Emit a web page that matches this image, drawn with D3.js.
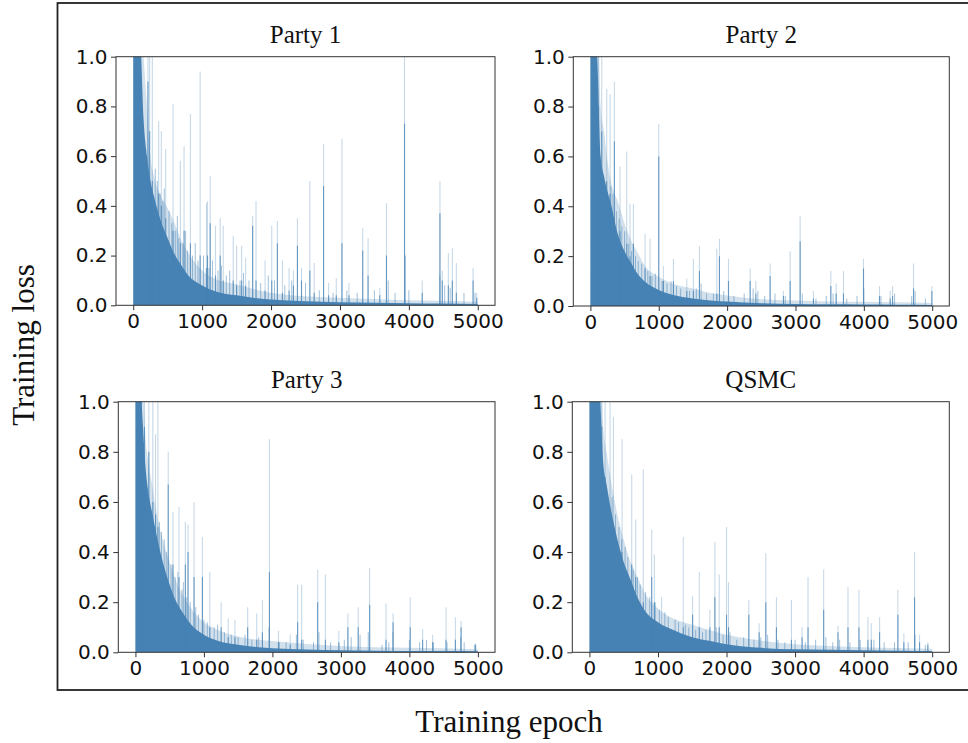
<!DOCTYPE html>
<html><head><meta charset="utf-8">
<script src="https://cdn.jsdelivr.net/npm/d3@7"></script>
<style>
html,body{margin:0;padding:0;background:#fff;}
svg{display:block;}
</style></head>
<body>
<svg id="chart" width="968" height="743"></svg>
<script>
// ---------------- data ----------------
const titles = ["Party 1", "Party 2", "Party 3", "QSMC"];
const xTicks = [0, 1000, 2000, 3000, 4000, 5000];
const yTicks = [0.0, 0.2, 0.4, 0.6, 0.8, 1.0];
const epochGrid = [0, 50, 100, 150, 200, 250, 300, 400, 500, 600, 700, 800, 1000, 1200, 1500, 1800, 2000, 2500, 3000, 3500, 4000, 4500, 5000];

// dense (solid) loss level and light upper band, at epochGrid
const p1Dense = [1.2, 1.2, 1.1, 0.75, 0.6, 0.5, 0.44, 0.34, 0.27, 0.205, 0.16, 0.12, 0.08, 0.056, 0.04, 0.028, 0.023, 0.016, 0.012, 0.01, 0.008, 0.007, 0.005];
const p1Haze  = [1.2, 1.2, 1.2, 1.0, 0.8, 0.6, 0.52, 0.44, 0.39, 0.33, 0.26, 0.21, 0.14, 0.105, 0.085, 0.062, 0.05, 0.036, 0.03, 0.025, 0.02, 0.018, 0.014];
const p2Dense = [1.2, 1.2, 1.0, 0.6, 0.52, 0.46, 0.41, 0.29, 0.22, 0.17, 0.125, 0.097, 0.064, 0.045, 0.03, 0.021, 0.018, 0.011, 0.008, 0.007, 0.006, 0.005, 0.004];
const p2Haze  = [1.2, 1.2, 1.2, 0.8, 0.7, 0.58, 0.5, 0.42, 0.33, 0.26, 0.21, 0.16, 0.117, 0.09, 0.07, 0.05, 0.042, 0.027, 0.022, 0.018, 0.017, 0.015, 0.012];
const p3Dense = [1.2, 1.2, 0.95, 0.73, 0.62, 0.55, 0.48, 0.36, 0.27, 0.2, 0.155, 0.115, 0.07, 0.046, 0.03, 0.02, 0.016, 0.011, 0.008, 0.006, 0.005, 0.005, 0.004];
const p3Haze  = [1.2, 1.2, 1.1, 0.85, 0.74, 0.66, 0.57, 0.45, 0.36, 0.28, 0.225, 0.18, 0.12, 0.09, 0.063, 0.05, 0.045, 0.033, 0.025, 0.02, 0.018, 0.016, 0.012];
const p4Dense = [1.2, 1.2, 1.2, 1.05, 0.76, 0.67, 0.59, 0.46, 0.36, 0.29, 0.22, 0.17, 0.12, 0.092, 0.06, 0.043, 0.032, 0.018, 0.012, 0.01, 0.008, 0.006, 0.005];
const p4Haze  = [1.2, 1.2, 1.2, 1.2, 0.9, 0.8, 0.71, 0.56, 0.45, 0.36, 0.3, 0.24, 0.175, 0.138, 0.11, 0.085, 0.07, 0.047, 0.032, 0.025, 0.02, 0.017, 0.014];

// tall spikes: [epoch, peak loss, darker core height]
const p1Spikes = [[214,1.2,0.9],[238,1.2,0.7],[277,1.2,0.5],[369,0.74,0.45],[408,0.70,0.4],[471,0.63,0.35],[578,0.81,0.3],[684,0.58,0.25],[738,0.64,0.3],[830,0.77,0.25],[971,0.94,0.2],[1063,0.41,0.15],[1078,0.42,0.2],[1117,0.52,0.33],[1194,0.32,0.12],[1262,0.35,0.2],[1306,0.32,0.1],[1451,0.28,0.1],[1500,0.24,0.08],[1573,0.24,0.1],[1631,0.19,0.08],[1733,0.36,0.32],[1782,0.42,0.1],[1913,0.18,0.06],[2010,0.32,0.1],[2092,0.34,0.25],[2165,0.18,0.05],[2262,0.15,0.06],[2325,0.14,0.08],[2383,0.35,0.24],[2442,0.15,0.1],[2563,0.50,0.14],[2626,0.17,0.05],[2762,0.65,0.48],[2835,0.09,0.04],[2947,0.11,0.04],[3029,0.67,0.25],[3131,0.09,0.04],[3330,0.31,0.22],[3408,0.27,0.12],[3578,0.07,0.04],[3675,0.41,0.2],[3937,1.0,0.73],[4194,0.10,0.05],[4451,0.50,0.37],[4485,0.14,0.1],[4573,0.21,0.08],[4631,0.23,0.1],[4689,0.17,0.05],[4932,0.15,0.1],[4985,0.05,0.03]];
const p2Spikes = [[83,1.2,1.0],[120,1.2,0.8],[166,1.2,0.7],[239,0.87,0.5],[288,0.85,0.45],[351,0.90,0.66],[434,0.56,0.3],[532,0.62,0.25],[580,0.41,0.2],[629,0.41,0.25],[800,0.29,0.15],[873,0.27,0.12],[1000,0.73,0.6],[1068,0.16,0.1],[1215,0.19,0.1],[1410,0.11,0.06],[1507,0.19,0.06],[1595,0.24,0.14],[1849,0.23,0.05],[1888,0.27,0.2],[2020,0.19,0.1],[2337,0.15,0.1],[2420,0.10,0.05],[2629,0.17,0.12],[2824,0.06,0.04],[2922,0.22,0.1],[3068,0.36,0.26],[3263,0.06,0.03],[3517,0.14,0.08],[3595,0.09,0.05],[3702,0.14,0.05],[3995,0.19,0.15],[4229,0.08,0.04],[4385,0.06,0.03],[4420,0.08,0.04],[4727,0.17,0.07],[4995,0.08,0.06]];
const p3Spikes = [[83,1.2,1.0],[132,1.2,0.9],[196,1.2,0.8],[254,1.2,0.6],[328,1.2,0.5],[294,0.87,0.55],[479,0.80,0.67],[548,0.56,0.35],[636,0.58,0.3],[729,0.52,0.35],[768,0.51,0.4],[856,0.60,0.3],[978,0.46,0.3],[1086,0.32,0.1],[1252,0.20,0.1],[1355,0.135,0.06],[1453,0.13,0.06],[1639,0.18,0.1],[1771,0.155,0.05],[1854,0.21,0.08],[1957,0.85,0.32],[2089,0.086,0.04],[2260,0.072,0.03],[2368,0.27,0.12],[2427,0.27,0.05],[2661,0.33,0.2],[2774,0.31,0.05],[2970,0.086,0.04],[3102,0.155,0.1],[3253,0.18,0.1],[3420,0.335,0.19],[3659,0.195,0.05],[3762,0.155,0.12],[4012,0.22,0.1],[4193,0.093,0.05],[4340,0.07,0.04],[4535,0.18,0.05],[4672,0.14,0.05],[4755,0.126,0.1],[4966,0.036,0.03]];
const p4Spikes = [[131,1.2,1.0],[180,1.2,0.9],[228,1.2,0.7],[301,1.0,0.5],[350,0.94,0.5],[476,0.85,0.4],[617,0.71,0.35],[675,0.53,0.3],[786,0.73,0.2],[908,0.49,0.3],[947,0.39,0.2],[1053,0.22,0.1],[1369,0.46,0.1],[1505,0.225,0.15],[1602,0.32,0.1],[1757,0.17,0.1],[1830,0.44,0.22],[1893,0.31,0.1],[2000,0.50,0.15],[2029,0.28,0.1],[2325,0.21,0.15],[2476,0.116,0.08],[2573,0.395,0.2],[2728,0.22,0.1],[2947,0.21,0.05],[3102,0.10,0.06],[3189,0.30,0.1],[3417,0.33,0.17],[3626,0.106,0.08],[3772,0.26,0.1],[3932,0.25,0.1],[4063,0.14,0.05],[4112,0.116,0.05],[4233,0.14,0.08],[4500,0.25,0.15],[4587,0.076,0.04],[4743,0.40,0.22],[4816,0.07,0.04],[4937,0.04,0.03]];

// small darker spikes along the dense band: [epoch, peak loss]
const p1Minor = [[320,0.55],[350,0.5],[390,0.45],[430,0.42],[450,0.47],[520,0.38],[560,0.33],[610,0.3],[640,0.36],[660,0.27],[720,0.25],[760,0.3],[790,0.22],[860,0.2],[900,0.25],[940,0.18],[1020,0.2],[1100,0.15],[1150,0.18],[1230,0.14],[1280,0.16],[1350,0.12],[1400,0.14],[1550,0.1],[1600,0.13],[1680,0.1],[1850,0.09],[1960,0.12],[2050,0.1],[2200,0.08],[2300,0.1],[2500,0.09],[2700,0.06],[2900,0.05],[3100,0.06],[3250,0.05],[3500,0.06],[3700,0.1],[3800,0.05],[3950,0.2],[4000,0.06],[4450,0.12],[4520,0.08],[4600,0.07],[4800,0.05],[4960,0.05]];
const p2Minor = [[300,0.48],[330,0.45],[380,0.38],[420,0.35],[460,0.32],[500,0.3],[560,0.25],[600,0.22],[660,0.2],[700,0.18],[750,0.17],[840,0.14],[900,0.12],[950,0.13],[1050,0.1],[1120,0.09],[1180,0.1],[1260,0.08],[1320,0.07],[1450,0.06],[1550,0.07],[1620,0.09],[1700,0.05],[1800,0.05],[1950,0.06],[2100,0.04],[2250,0.05],[2380,0.07],[2450,0.06],[2550,0.04],[2700,0.05],[2850,0.04],[3100,0.05],[3300,0.03],[3450,0.04],[3550,0.05],[3750,0.03],[3900,0.04],[4000,0.07],[4250,0.04],[4450,0.05],[4700,0.04],[4750,0.06],[4900,0.03]];
const p3Minor = [[350,0.52],[380,0.48],[420,0.45],[450,0.4],[520,0.35],[580,0.3],[620,0.32],[680,0.25],[700,0.28],[750,0.22],[800,0.2],[880,0.18],[920,0.15],[1000,0.13],[1050,0.12],[1150,0.1],[1200,0.11],[1300,0.08],[1400,0.07],[1500,0.06],[1600,0.07],[1700,0.05],[1800,0.06],[1950,0.1],[2100,0.04],[2200,0.04],[2350,0.07],[2450,0.05],[2600,0.04],[2680,0.08],[2850,0.04],[3050,0.05],[3150,0.06],[3280,0.07],[3400,0.08],[3600,0.03],[3700,0.04],[3760,0.08],[4000,0.05],[4150,0.04],[4250,0.05],[4350,0.04],[4550,0.04],[4750,0.06],[4800,0.04],[4950,0.03]];
const p4Minor = [[330,0.62],[380,0.55],[430,0.5],[470,0.45],[520,0.42],[560,0.38],[640,0.33],[700,0.3],[740,0.27],[820,0.24],[880,0.22],[960,0.2],[1020,0.17],[1100,0.16],[1150,0.14],[1250,0.13],[1300,0.12],[1400,0.11],[1450,0.1],[1550,0.09],[1650,0.08],[1700,0.09],[1850,0.1],[1950,0.07],[2050,0.08],[2150,0.05],[2250,0.06],[2400,0.05],[2500,0.06],[2600,0.07],[2750,0.05],[2850,0.04],[3000,0.05],[3150,0.04],[3300,0.05],[3450,0.06],[3550,0.04],[3650,0.05],[3800,0.04],[3950,0.05],[4150,0.05],[4300,0.04],[4450,0.04],[4650,0.04],[4750,0.07],[4900,0.03]];

// ---------------- drawing ----------------
const color = "#4682b4";
const svg = d3.select("#chart");

// outer frame
svg.append("rect").attr("x", 57.5).attr("y", 3).attr("width", 920).attr("height", 687)
  .attr("fill", "none").attr("stroke", "#222").attr("stroke-width", 1.8);

const layout = [
  {x: 116, y: 56.7, w: 379, h: 248.6},
  {x: 573.3, y: 56.7, w: 376, h: 249.3},
  {x: 118.3, y: 401.7, w: 376.7, h: 250.6},
  {x: 572.3, y: 401.7, w: 377, h: 250.6}
];
const dense = [p1Dense, p2Dense, p3Dense, p4Dense];
const haze = [p1Haze, p2Haze, p3Haze, p4Haze];
const spikes = [p1Spikes, p2Spikes, p3Spikes, p4Spikes];
const minor = [p1Minor, p2Minor, p3Minor, p4Minor];

layout.forEach((L, i) => {
  const g = svg.append("g").attr("transform", `translate(${L.x},${L.y})`);
  const x = d3.scaleLinear().domain([-250, 5250]).range([0, L.w]);
  const y = d3.scaleLinear().domain([0, 1]).range([L.h, 0]);

  const clipId = "clip" + i;
  g.append("clipPath").attr("id", clipId).append("rect")
    .attr("width", L.w).attr("height", L.h);
  const plot = g.append("g").attr("clip-path", `url(#${clipId})`);

  const hazeData = epochGrid.map((e, k) => ({e, v: haze[i][k]}));
  const denseData = epochGrid.map((e, k) => ({e, v: dense[i][k]}));
  const area = d3.area().x(d => x(d.e)).y0(y(0)).y1(d => y(d.v)).curve(d3.curveMonotoneX);

  plot.append("path").datum(hazeData).attr("d", area)
    .attr("fill", color).attr("fill-opacity", 0.24);

  // light spikes
  plot.selectAll("line.sp").data(spikes[i]).join("line").attr("class", "sp")
    .attr("x1", d => x(d[0])).attr("x2", d => x(d[0]))
    .attr("y1", y(0)).attr("y2", d => y(d[1]))
    .attr("stroke", color).attr("stroke-opacity", 0.3).attr("stroke-width", 1.1);

  // minor spikes
  plot.selectAll("line.mn").data(minor[i]).join("line").attr("class", "mn")
    .attr("x1", d => x(d[0])).attr("x2", d => x(d[0]))
    .attr("y1", y(0)).attr("y2", d => y(d[1]))
    .attr("stroke", color).attr("stroke-opacity", 0.5).attr("stroke-width", 1);

  plot.append("path").datum(denseData).attr("d", area)
    .attr("fill", color);

  // darker cores of the spikes
  plot.selectAll("line.core").data(spikes[i]).join("line").attr("class", "core")
    .attr("x1", d => x(d[0])).attr("x2", d => x(d[0]))
    .attr("y1", y(0)).attr("y2", d => y(d[2]))
    .attr("stroke", color).attr("stroke-opacity", 0.75).attr("stroke-width", 1.1);

  // frame
  g.append("rect").attr("width", L.w).attr("height", L.h)
    .attr("fill", "none").attr("stroke", "#333").attr("stroke-width", 1);

  const xAxis = g.append("g").attr("transform", `translate(0,${L.h})`)
    .call(d3.axisBottom(x).tickValues(xTicks).tickFormat(d3.format("d")).tickSize(5).tickPadding(3.5));
  const yAxis = g.append("g")
    .call(d3.axisLeft(y).tickValues(yTicks).tickFormat(d3.format(".1f")).tickSize(5).tickPadding(3.5));
  [xAxis, yAxis].forEach(a => {
    a.select(".domain").remove();
    a.selectAll("line").attr("stroke", "#333");
    a.selectAll("text").attr("font-family", "DejaVu Sans").attr("font-size", 20).attr("fill", "#111");
  });

  g.append("text").attr("x", L.w / 2).attr("y", -14)
    .attr("text-anchor", "middle").attr("font-family", "Liberation Serif")
    .attr("font-size", 25).attr("fill", "#111").text(titles[i]);
});

svg.append("text").attr("x", 509).attr("y", 732).attr("text-anchor", "middle")
  .attr("font-family", "Liberation Serif").attr("font-size", 31).attr("fill", "#111")
  .text("Training epoch");
svg.append("text").attr("transform", "translate(34,345) rotate(-90)").attr("text-anchor", "middle")
  .attr("font-family", "Liberation Serif").attr("font-size", 31).attr("fill", "#111")
  .text("Training loss");
</script>
</body></html>
